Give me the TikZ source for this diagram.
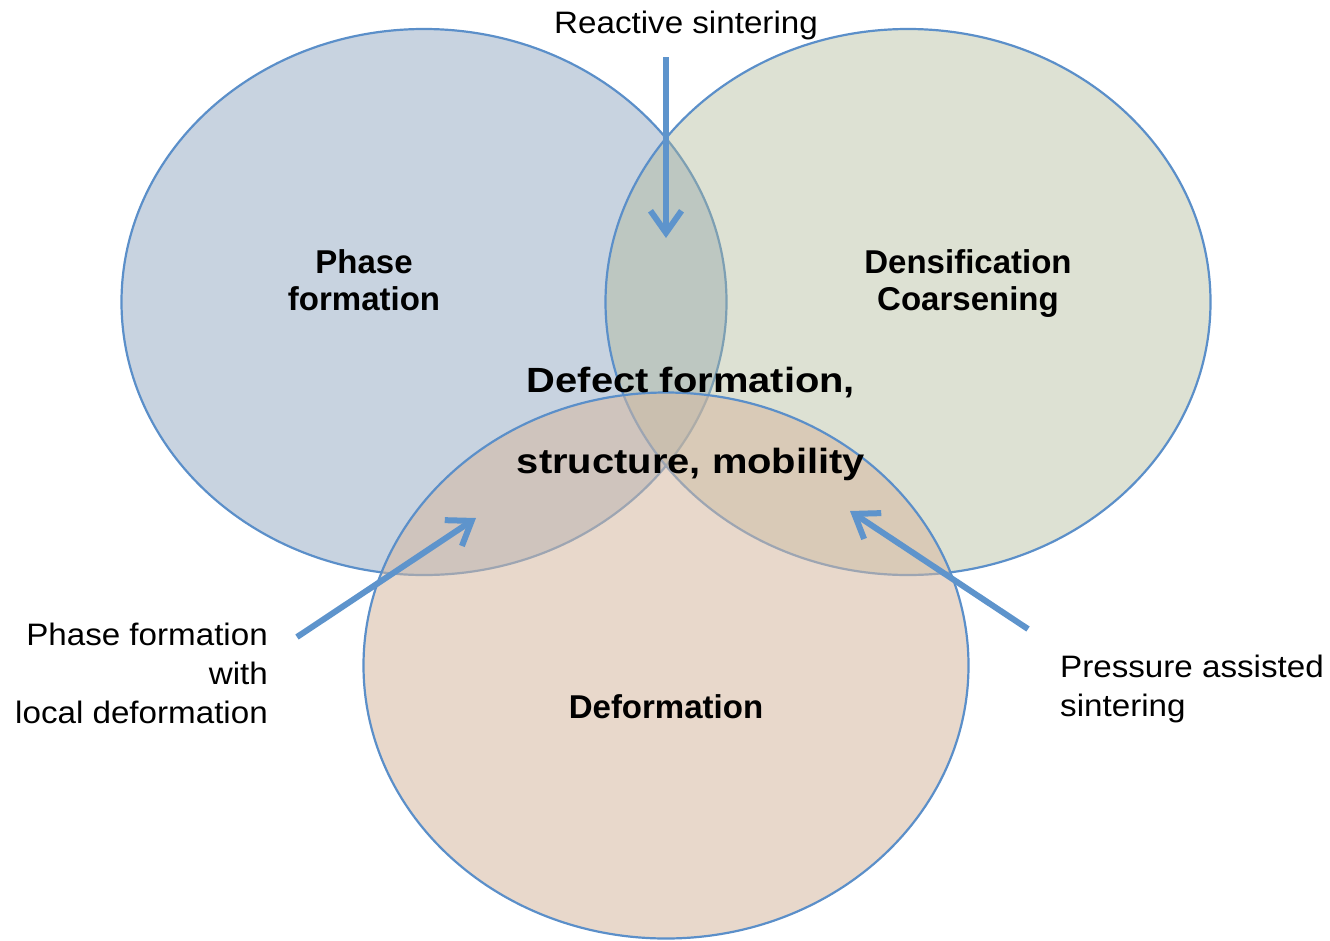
\documentclass[tikz,border=0pt]{standalone}
\usepackage{fontspec}
\setmainfont{Liberation Sans}
\newfontfamily\notefont[FakeStretch=1.07]{Liberation Sans}
\newfontfamily\corefont[FakeStretch=1.14]{Liberation Sans}
\usepackage{tikz}
\usetikzlibrary{shapes.geometric, arrows.meta, positioning}
\definecolor{colorPhase}{RGB}{124, 150, 181}
\definecolor{colorDens}{RGB}{174, 183, 150}
\definecolor{colorDeform}{RGB}{213, 184, 160}
\definecolor{colorEdge}{RGB}{91, 143, 201}
\definecolor{colorArrow}{RGB}{94, 148, 204}
\tikzstyle{region} = [ellipse, draw=colorEdge, line width=2.2pt, fill opacity=0.42, minimum width=605pt, minimum height=546pt, inner sep=0pt]
\tikzstyle{title} = [font=\fontsize{33}{37}\selectfont\bfseries, align=center, inner sep=0pt]
\tikzstyle{core} = [font=\corefont\bfseries\fontsize{35}{81}\selectfont, align=center, inner sep=0pt]
\tikzstyle{note} = [font=\notefont\fontsize{31}{39}\selectfont, inner sep=0pt]
\tikzstyle{pointer} = [draw=colorArrow, line width=6pt, -{Straight Barb[length=22pt, width=31pt]}]

\begin{document}
\begin{tikzpicture}[x=1pt, y=-1pt]
	\useasboundingbox (0,0) rectangle (1330,940);

	% the three regions, later ones lie over earlier ones
	\node (phase)[region, fill=colorPhase] at (424,302) {};
	\node (dens)[region, fill=colorDens] at (908,302) {};
	\node (deform)[region, fill=colorDeform, fill opacity=0.55] at (666,665.5) {};

	% region titles (base = last line)
	\node (tPhase)[title, anchor=base] at (364,310) {Phase\\formation};
	\node (tDens)[title, anchor=base] at (968,310) {Densification\\Coarsening};
	\node (tDeform)[title, anchor=base] at (666,718) {Deformation};
	\node (tCore)[core, anchor=base] at (691,473) {Defect formation,\\structure, mobility};

	% outside notes
	\node (nReact)[note, anchor=base] at (686,33) {Reactive sintering};
	\node (nLocal)[note, align=right, anchor=base east] at (268,723) {Phase formation\\with\\local deformation};
	\node (nPress)[note, align=left, anchor=base west] at (1060,716) {Pressure assisted\\sintering};

	% arrows
	\coordinate (reactTail) at (666,57);
	\coordinate (reactTip) at (666,238);
	\coordinate (localTail) at (297,637);
	\coordinate (localTip) at (476,518);
	\coordinate (pressTail) at (1028,629);
	\coordinate (pressTip) at (850,511);

	\draw[pointer] (reactTail) -- (reactTip);
	\draw[pointer] (localTail) -- (localTip);
	\draw[pointer] (pressTail) -- (pressTip);

\end{tikzpicture}
\end{document}
